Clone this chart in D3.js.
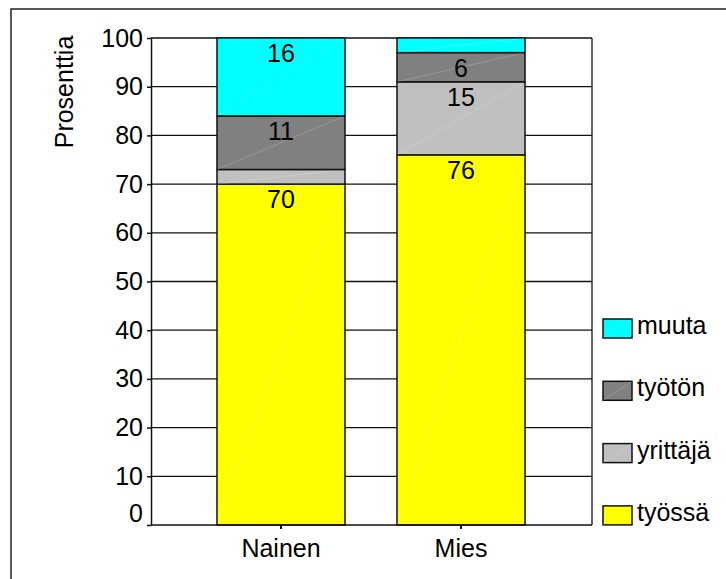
<!DOCTYPE html>
<html>
<head>
<meta charset="utf-8">
<script src="https://cdn.jsdelivr.net/npm/d3@7"></script>
<style>
  html, body { margin: 0; padding: 0; background: #fff; }
  svg { display: block; font-family: "Liberation Sans", Arial, sans-serif; }
</style>
</head>
<body>
<svg id="chart" width="726" height="579"></svg>
<script>
// Categories, series and values (percent)
const categories = ["Nainen", "Mies"];
const seriesNames = ["työssä", "yrittäjä", "työtön", "muuta"];
const tyossa = [70, 76];
const yrittaja = [3, 15];
const tyoton = [11, 6];
const muuta = [16, 3];
const yTicks = [0, 10, 20, 30, 40, 50, 60, 70, 80, 90, 100];
const seriesColors = ["#FFFF00", "#C0C0C0", "#808080", "#00FFFF"];
const yTitle = "Prosenttia";

const valuesBySeries = [tyossa, yrittaja, tyoton, muuta];
const table = categories.map((c, i) => {
  const row = { category: c };
  seriesNames.forEach((s, k) => { row[s] = valuesBySeries[k][i]; });
  return row;
});

const svg = d3.select("#chart");
const fontSize = 25;

// Outer frame
svg.append("rect")
  .attr("x", 11).attr("y", 9)
  .attr("width", 740).attr("height", 600)
  .attr("fill", "none").attr("stroke", "#222").attr("stroke-width", 1.5);

const plot = { left: 151, right: 592, top: 38, bottom: 525 };

const y = d3.scaleLinear().domain([0, 100]).range([plot.bottom, plot.top]);
const x = d3.scaleBand()
  .domain(categories)
  .range([191, 551])
  .paddingInner(0.2889)
  .paddingOuter(0.1444);

const color = d3.scaleOrdinal().domain(seriesNames).range(seriesColors);

// Horizontal gridlines
svg.append("g")
  .selectAll("line")
  .data(yTicks.filter(t => t > 0))
  .join("line")
  .attr("x1", plot.left).attr("x2", plot.right)
  .attr("y1", d => y(d)).attr("y2", d => y(d))
  .attr("stroke", "#111").attr("stroke-width", 1.3);

// Right border of plot area
svg.append("line")
  .attr("x1", plot.right).attr("x2", plot.right)
  .attr("y1", plot.top).attr("y2", plot.bottom)
  .attr("stroke", "#111").attr("stroke-width", 1.3);

// Stacked bars
const stacked = d3.stack().keys(seriesNames)(table);

const layers = svg.append("g")
  .selectAll("g")
  .data(stacked)
  .join("g")
  .attr("fill", d => color(d.key));

layers.selectAll("rect")
  .data(d => d)
  .join("rect")
  .attr("x", d => x(d.data.category))
  .attr("y", d => y(d[1]))
  .attr("width", x.bandwidth())
  .attr("height", d => y(d[0]) - y(d[1]))
  .attr("stroke", "#111")
  .attr("stroke-width", 1.5);

// Faint diagonal seams inside each segment
layers.selectAll("line")
  .data(d => d)
  .join("line")
  .attr("x1", d => x(d.data.category))
  .attr("y1", d => y(d[0]))
  .attr("x2", d => x(d.data.category) + x.bandwidth())
  .attr("y2", d => y(d[1]))
  .attr("stroke", "#fff")
  .attr("stroke-opacity", 0.3)
  .attr("stroke-width", 0.6);

// Value labels near the top of each segment
layers.selectAll("text")
  .data(d => d.filter(p => (p[1] - p[0]) >= 5))
  .join("text")
  .attr("x", d => x(d.data.category) + x.bandwidth() / 2)
  .attr("y", d => y(d[1]) + 24)
  .attr("text-anchor", "middle")
  .attr("font-size", fontSize)
  .attr("fill", "#000")
  .text(d => d3.format("d")(d[1] - d[0]));

// Y axis
const yAxis = svg.append("g")
  .attr("transform", `translate(${plot.left},0)`)
  .call(d3.axisLeft(y).tickValues(yTicks).tickSize(4).tickPadding(4).tickSizeOuter(0));
yAxis.select(".domain").attr("stroke", "#111").attr("stroke-width", 1.5);
yAxis.selectAll(".tick line").attr("stroke", "#111").attr("stroke-width", 1.5);
yAxis.selectAll(".tick text")
  .attr("font-size", fontSize)
  .attr("font-family", "Liberation Sans, Arial, sans-serif")
  .attr("fill", "#000");
yAxis.selectAll(".tick").filter(d => d === 0).select("text").attr("dy", "-0.16em");

// X axis
const xAxis = svg.append("g")
  .attr("transform", `translate(0,${plot.bottom})`)
  .call(d3.axisBottom(x).tickSize(4).tickSizeOuter(0));
xAxis.select(".domain")
  .attr("d", `M${plot.left},0H${plot.right}`)
  .attr("stroke", "#111").attr("stroke-width", 1.5);
xAxis.selectAll(".tick line").attr("stroke", "#111").attr("stroke-width", 2);
xAxis.selectAll(".tick text")
  .attr("font-size", fontSize)
  .attr("font-family", "Liberation Sans, Arial, sans-serif")
  .attr("fill", "#000")
  .attr("y", 32).attr("dy", null);

// Y axis title
svg.append("text")
  .attr("transform", "translate(73,92) rotate(-90)")
  .attr("text-anchor", "middle")
  .attr("font-size", fontSize)
  .attr("fill", "#000")
  .text(yTitle);

// Legend (top entry is the top of the stack)
const legendItems = seriesNames.slice().reverse();
const legend = svg.append("g")
  .selectAll("g")
  .data(legendItems)
  .join("g")
  .attr("transform", (d, i) => `translate(603,${319 + i * 62.3})`);

legend.append("rect")
  .attr("width", 29).attr("height", 19)
  .attr("fill", d => color(d))
  .attr("stroke", "#111").attr("stroke-width", 1.5);

legend.append("line")
  .attr("x1", 0).attr("y1", 19).attr("x2", 29).attr("y2", 0)
  .attr("stroke", "#fff").attr("stroke-opacity", 0.3).attr("stroke-width", 0.6);

legend.append("text")
  .attr("x", 34).attr("y", 15)
  .attr("font-size", fontSize)
  .attr("fill", "#000")
  .text(d => d);
</script>
</body>
</html>
